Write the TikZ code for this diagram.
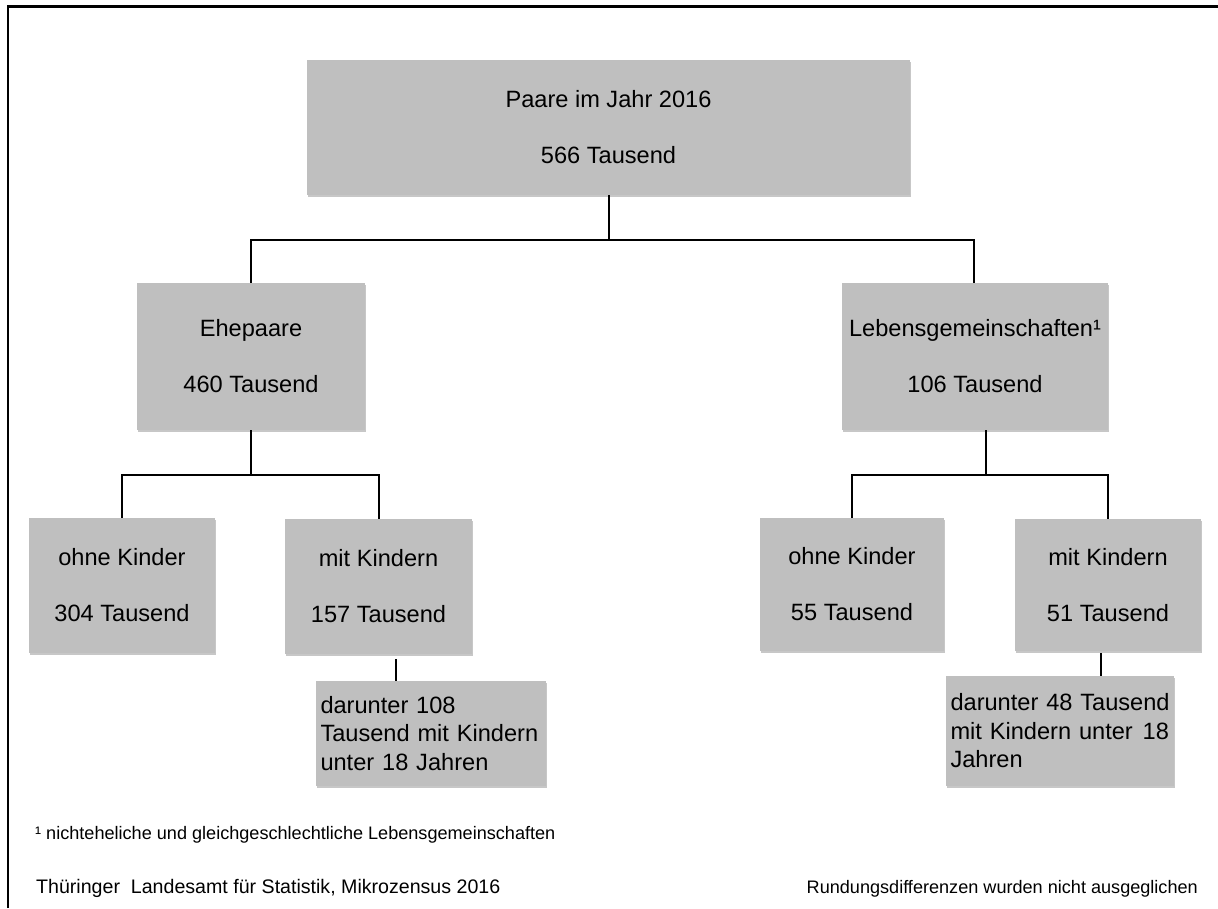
\documentclass[tikz,border=0pt]{standalone}
\usepackage{fontspec}
\setmainfont{Liberation Sans}
\usetikzlibrary{shadows}
\definecolor{boxgray}{RGB}{191,191,191}
\begin{document}
\begin{tikzpicture}[x=1pt,y=-1pt,
  box/.style={fill=boxgray, draw=none, inner sep=0pt,
    drop shadow={shadow xshift=1pt, shadow yshift=-1.5pt, fill=black, opacity=0.22}},
  twoline/.style={box, font=\fontsize{23.6}{56}\selectfont, align=center},
  subbox/.style={box, font=\fontsize{23.6}{28.5}\selectfont, align=left, inner xsep=4.5pt},
  conn/.style={line width=2pt, draw=black},
  frame/.style={line width=2.6pt, draw=black},
  note/.style={inner sep=0pt, font=\fontsize{18.1}{22}\selectfont},
  src/.style={inner sep=0pt, font=\fontsize{19.6}{24}\selectfont}]
\useasboundingbox (0,0) rectangle (1218,908);
\fill[white] (0,0) rectangle (1218,908);
\draw[frame] (8,908) -- (8,6.5) -- (1218,6.5);

% boxes
\node[twoline, minimum width=603pt, minimum height=135pt] (top) at (608.5,127.5)
  {Paare im Jahr 2016\\566 Tausend};
\node[twoline, minimum width=228pt, minimum height=147pt] (ehe) at (251,356.5)
  {Ehepaare\\460 Tausend};
\node[twoline, minimum width=266pt, minimum height=147pt] (leb) at (975,356.5)
  {Lebensgemeinschaften¹\\106 Tausend};
\node[twoline, minimum width=186pt, minimum height=135pt] (ok1) at (122,585.5)
  {ohne Kinder\\304 Tausend};
\node[twoline, minimum width=187pt, minimum height=135pt] (mk1) at (378.5,586.5)
  {mit Kindern\\157 Tausend};
\node[twoline, minimum width=184pt, minimum height=133pt] (ok2) at (852,584.5)
  {ohne Kinder\\55 Tausend};
\node[twoline, minimum width=186pt, minimum height=132pt] (mk2) at (1108,585)
  {mit Kindern\\51 Tausend};
\node[subbox, text width=221pt, minimum height=105pt] (dl1) at (431,733.5)
  {\mbox{darunter 108}\\\mbox{Tausend mit Kindern}\\\mbox{unter 18 Jahren}};
\node[subbox, text width=219pt, minimum height=110pt] (dl2) at (1060,731)
  {\mbox{darunter 48 Tausend}\\\mbox{mit Kindern unter\hspace{2pt} 18}\\\mbox{Jahren}};

% junction coordinates
\coordinate (j0) at (608.5,240);
\coordinate (j0l) at (250.5,240);
\coordinate (j0r) at (974,240);
\coordinate (j1) at (251,475);
\coordinate (j2) at (986,475);
\coordinate (d1) at (396,659);
\coordinate (d2) at (1101,653);

% connectors
\draw[conn] (top.south) -- (j0);
\draw[conn] (j0l |- ehe.north) -- (j0l) -- (j0r) -- (j0r |- leb.north);
\draw[conn] (ehe.south) -- (j1);
\draw[conn] (ok1.north) -- (ok1.north |- j1) -- (mk1.north |- j1) -- (mk1.north);
\draw[conn] (j2 |- leb.south) -- (j2);
\draw[conn] (ok2.north) -- (ok2.north |- j2) -- (mk2.north |- j2) -- (mk2.north);
\draw[conn] (d1) -- (d1 |- dl1.north);
\draw[conn] (d2) -- (d2 |- dl2.north);

% footer texts
\node[note, anchor=base west] (fn) at (35,839)
  {¹ nichteheliche und gleichgeschlechtliche Lebensgemeinschaften};
\node[src, anchor=base west] (srcnote) at (36,893)
  {Thüringer\ \ Landesamt für Statistik, Mikrozensus 2016};
\node[note, anchor=base east] (rnd) at (1198,893)
  {Rundungsdifferenzen wurden nicht ausgeglichen};
\end{tikzpicture}
\end{document}
